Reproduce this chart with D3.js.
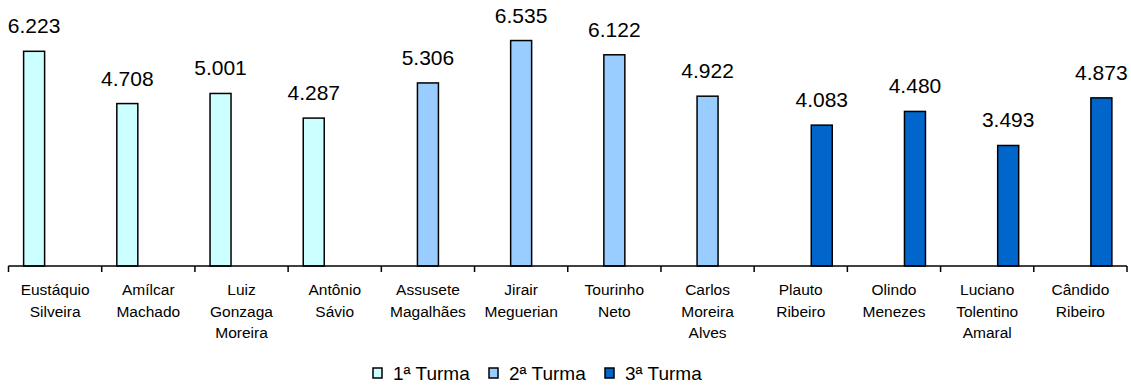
<!DOCTYPE html>
<html>
<head>
<meta charset="utf-8">
<script src="https://cdn.jsdelivr.net/npm/d3@7"></script>
<style>
  body { margin: 0; background: #fff; }
  text { font-family: "Liberation Sans", Arial, sans-serif; fill: #000; }
</style>
</head>
<body>
<div id="chart"></div>
<script>
// Dados
const categories = [
  ["Eustáquio", "Silveira"],
  ["Amílcar", "Machado"],
  ["Luiz", "Gonzaga", "Moreira"],
  ["Antônio", "Sávio"],
  ["Assusete", "Magalhães"],
  ["Jirair", "Meguerian"],
  ["Tourinho", "Neto"],
  ["Carlos", "Moreira", "Alves"],
  ["Plauto", "Ribeiro"],
  ["Olindo", "Menezes"],
  ["Luciano", "Tolentino", "Amaral"],
  ["Cândido", "Ribeiro"]
];
const seriesNames = ["1ª Turma", "2ª Turma", "3ª Turma"];
const turma1 = [6223, 4708, 5001, 4287, null, null, null, null, null, null, null, null];
const turma2 = [null, null, null, null, 5306, 6535, 6122, 4922, null, null, null, null];
const turma3 = [null, null, null, null, null, null, null, null, 4083, 4480, 3493, 4873];
const colors = ["#CCFFFF", "#99CCFF", "#0066CC"];

const width = 1131;
const height = 388;
const margin = { top: 24.5, right: 4, bottom: 122, left: 8.5 };

const svg = d3.select("#chart")
  .append("svg")
  .attr("width", width)
  .attr("height", height);

const br = d3.formatLocale({ decimal: ",", thousands: ".", grouping: [3], currency: ["R$", ""] });
const fmt = br.format(",");

const idx = categories.map((_, i) => i);

// Escalas
const x0 = d3.scaleBand()
  .domain(idx)
  .range([margin.left, width - margin.right]);

const x1 = d3.scaleBand()
  .domain(d3.range(seriesNames.length))
  .range([0, x0.bandwidth()])
  .paddingOuter(0.72);

const y = d3.scaleLinear()
  .domain([0, 7000])
  .range([height - margin.bottom, margin.top]);

const baseY = y(0);

// Barras
const allSeries = [turma1, turma2, turma3];
allSeries.forEach((vals, s) => {
  const pts = vals.map((v, i) => ({ i, v })).filter(d => d.v != null);
  const g = svg.append("g");
  g.selectAll("rect")
    .data(pts)
    .enter()
    .append("rect")
    .attr("x", d => x0(d.i) + x1(s))
    .attr("y", d => y(d.v))
    .attr("width", x1.bandwidth())
    .attr("height", d => baseY - y(d.v))
    .attr("fill", colors[s])
    .attr("stroke", "#000")
    .attr("stroke-width", 1.5);

  g.selectAll("text")
    .data(pts)
    .enter()
    .append("text")
    .attr("x", d => x0(d.i) + x1(s) + x1.bandwidth() / 2)
    .attr("y", d => y(d.v) - 18)
    .attr("text-anchor", "middle")
    .style("font-size", "21px")
    .text(d => fmt(d.v));
});

// Eixo X
const axis = svg.append("g")
  .attr("transform", `translate(0, ${baseY})`)
  .call(d3.axisBottom(x0).tickSize(0).tickFormat(""));
axis.select(".domain").attr("stroke", "#000").attr("stroke-width", 1.5).attr("d", `M${margin.left},0H${width - margin.right}`);

const bounds = idx.map(i => x0(i)).concat([x0(idx[idx.length - 1]) + x0.bandwidth()]);
axis.selectAll(".sep")
  .data(bounds)
  .enter()
  .append("line")
  .attr("x1", d => d).attr("x2", d => d)
  .attr("y1", 0).attr("y2", 6)
  .attr("stroke", "#000")
  .attr("stroke-width", 1.5);

// Rótulos das categorias
const labels = svg.append("g");
categories.forEach((lines, i) => {
  const t = labels.append("text")
    .attr("x", x0(i) + x0.bandwidth() / 2)
    .attr("y", baseY + 29)
    .attr("text-anchor", "middle")
    .style("font-size", "15.5px");
  lines.forEach((l, k) => {
    t.append("tspan")
      .attr("x", x0(i) + x0.bandwidth() / 2)
      .attr("dy", k === 0 ? 0 : 21.7)
      .text(l);
  });
});

// Legenda
const legend = svg.append("g").attr("transform", "translate(373, 373)");
const item = legend.selectAll("g")
  .data(seriesNames)
  .enter()
  .append("g")
  .attr("transform", (_, i) => `translate(${i * 116}, 0)`);
item.append("rect")
  .attr("x", 0).attr("y", -5)
  .attr("width", 9).attr("height", 10)
  .attr("fill", (_, i) => colors[i])
  .attr("stroke", "#000")
  .attr("stroke-width", 1.5);
item.append("text")
  .attr("x", 20)
  .attr("y", 6.5)
  .style("font-size", "19px")
  .text(d => d);
</script>
</body>
</html>
